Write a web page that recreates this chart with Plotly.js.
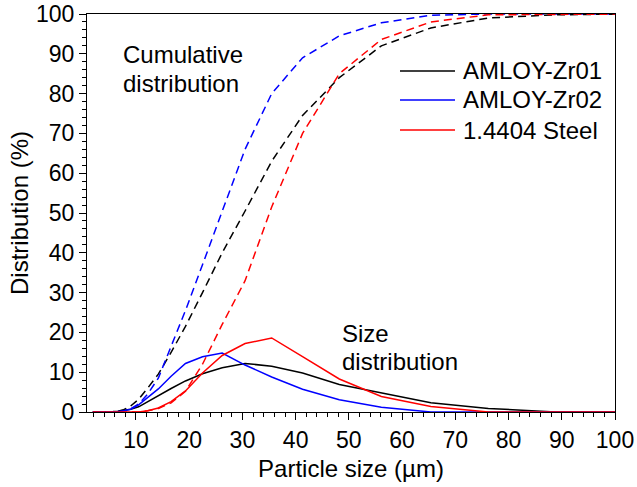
<!DOCTYPE html>
<html>
<head>
<meta charset="utf-8">
<script src="https://cdn.plot.ly/plotly-3.0.1.min.js"></script>
<style>html,body{margin:0;padding:0;background:#fff;}#chart{width:637px;height:487px;}</style>
</head>
<body>
<div id="chart"></div>
<script>
// Particle size bins (µm)
const sizes = [1.9, 2.3, 2.6, 3.1, 3.6, 4.2, 4.9, 5.7, 6.6, 7.7, 9.0, 10.5, 12.2, 14.2, 16.6, 19.3, 22.5, 26.2, 30.5, 35.5, 41.3, 48.2, 56.1, 65.4, 76.2, 88.8, 103];

// Size distribution (%)
const zr01Size  = [0, 0, 0, 0, 0, 0, 0, 0.1, 0.2, 0.4, 0.7, 1.3, 2.6, 4.0, 5.9, 7.8, 9.6, 11.1, 12.2, 11.5, 9.8, 6.9, 4.8, 2.3, 0.9, 0, 0];
const zr02Size  = [0, 0, 0, 0, 0, 0, 0, 0, 0.1, 0.3, 0.7, 1.8, 3.6, 5.8, 9.0, 12.2, 13.9, 14.8, 11.8, 8.8, 5.7, 3.1, 1.2, 0, 0, 0, 0];
const steelSize = [0, 0, 0, 0, 0, 0, 0, 0, 0, 0, 0, 0, 0.3, 1.0, 2.6, 5.3, 9.8, 14.2, 17.2, 18.6, 13.9, 8.3, 3.9, 1.4, 0, 0, 0];

// Cumulative distribution (%)
const zr01Cum  = [0, 0, 0, 0, 0, 0, 0, 0, 0.2, 0.6, 1.5, 3.2, 6.0, 9.5, 15.0, 21.5, 30.0, 40.0, 50.5, 63.0, 74.5, 84.0, 92.0, 96.5, 99.0, 99.8, 100];
const zr02Cum  = [0, 0, 0, 0, 0, 0, 0, 0, 0.1, 0.3, 0.8, 2.0, 4.5, 8.5, 16.5, 25.5, 37.0, 50.5, 66.0, 80.0, 89.0, 94.5, 97.8, 99.7, 100, 100, 100];
const steelCum = [0, 0, 0, 0, 0, 0, 0, 0, 0, 0, 0, 0, 0.3, 0.9, 2.3, 5.2, 12.0, 22.0, 33.0, 51.5, 70.0, 85.0, 93.6, 98.0, 99.8, 100, 100];

const seriesNames = ["AMLOY-Zr01", "AMLOY-Zr02", "1.4404 Steel"];
const seriesColors = ["#000000", "#0000ff", "#ff0000"];
const sizeSeries = [zr01Size, zr02Size, steelSize];
const cumSeries = [zr01Cum, zr02Cum, steelCum];

const xTickVals = [10, 20, 30, 40, 50, 60, 70, 80, 90, 100];
const yTickVals = [0, 10, 20, 30, 40, 50, 60, 70, 80, 90, 100];

const FONT = "Liberation Sans, Arial, sans-serif";

const traces = [];
for (let i = 0; i < 3; i++) {
  traces.push({
    x: sizes, y: sizeSeries[i], type: "scatter", mode: "lines",
    name: seriesNames[i],
    line: {color: seriesColors[i], width: 1.5},
    showlegend: false
  });
}
for (let i = 0; i < 3; i++) {
  traces.push({
    x: sizes, y: cumSeries[i], type: "scatter", mode: "lines",
    name: seriesNames[i] + " cumulative",
    line: {color: seriesColors[i], width: 1.5, dash: "8px,5px"},
    showlegend: false
  });
}

// Legend (drawn as key lines + labels)
const legendRowsY = [0.857, 0.784, 0.7085];
const shapes = [];
const annotations = [];
for (let i = 0; i < 3; i++) {
  shapes.push({type: "line", xref: "paper", yref: "paper",
    x0: 0.5928, x1: 0.697, y0: legendRowsY[i], y1: legendRowsY[i],
    line: {color: seriesColors[i], width: 1.5}});
  annotations.push({x: 0.7083, y: legendRowsY[i], xref: "paper", yref: "paper",
    text: seriesNames[i], showarrow: false, xanchor: "left", yanchor: "middle",
    font: {family: FONT, size: 24, color: "#000"}});
}
const labelFont = {family: FONT, size: 24, color: "#000"};
annotations.push(
  {x: 7.1, y: 89.85, xref: "x", yref: "y", text: "Cumulative", showarrow: false, xanchor: "left", yanchor: "middle", font: labelFont},
  {x: 7.1, y: 82.6, xref: "x", yref: "y", text: "distribution", showarrow: false, xanchor: "left", yanchor: "middle", font: labelFont},
  {x: 48.3, y: 19.75, xref: "x", yref: "y", text: "Size", showarrow: false, xanchor: "left", yanchor: "middle", font: labelFont},
  {x: 48.3, y: 12.64, xref: "x", yref: "y", text: "distribution", showarrow: false, xanchor: "left", yanchor: "middle", font: labelFont}
);

const layout = {
  width: 637, height: 487,
  margin: {l: 87, r: 22, t: 14, b: 75},
  paper_bgcolor: "#fff", plot_bgcolor: "#fff",
  font: {family: FONT, size: 23, color: "#000"},
  showlegend: false,
  xaxis: {
    range: [0.8, 100], tickmode: "array", tickvals: xTickVals,
    ticks: "outside", ticklen: 7, tickwidth: 1, tickcolor: "#000",
    minor: {dtick: 2, tick0: 0, ticks: "outside", ticklen: 4, tickwidth: 1, tickcolor: "#000"},
    showgrid: false, zeroline: false,
    showline: true, linecolor: "#000", linewidth: 1, mirror: true,
    tickfont: {family: FONT, size: 23, color: "#000"},
    title: {text: "Particle size (µm)", font: {family: FONT, size: 24, color: "#000"}, standoff: 8}
  },
  yaxis: {
    range: [0, 100], tickmode: "array", tickvals: yTickVals,
    ticks: "outside", ticklen: 7, tickwidth: 1, tickcolor: "#000",
    minor: {dtick: 2, tick0: 0, ticks: "outside", ticklen: 4, tickwidth: 1, tickcolor: "#000"},
    showgrid: false, zeroline: false,
    showline: true, linecolor: "#000", linewidth: 1, mirror: true,
    tickfont: {family: FONT, size: 23, color: "#000"},
    title: {text: "Distribution (%)", font: {family: FONT, size: 24, color: "#000"}, standoff: 0}
  },
  shapes: shapes,
  annotations: annotations
};

Plotly.newPlot("chart", traces, layout, {displayModeBar: false, staticPlot: true});
</script>
</body>
</html>
